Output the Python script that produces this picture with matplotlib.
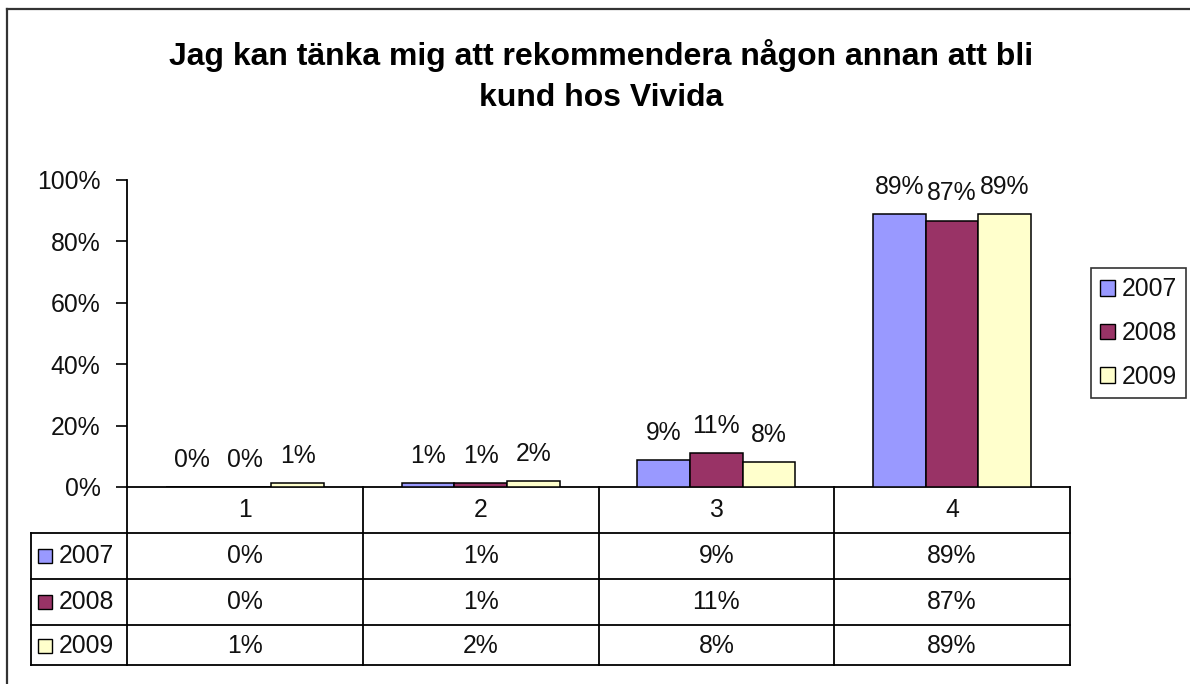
import matplotlib
matplotlib.use('Agg')
import matplotlib.pyplot as plt
import numpy as np
from matplotlib.transforms import blended_transform_factory
from matplotlib.lines import Line2D
from matplotlib.patches import Patch

plt.rcParams['font.family'] = ['Liberation Sans', 'DejaVu Sans']

# ---- data ----
title = "Jag kan tänka mig att rekommendera någon annan att bli\nkund hos Vivida"
categories = ['1', '2', '3', '4']
years = ['2007', '2008', '2009']
v2007 = [0.0, 1.2, 8.9, 88.8]
v2008 = [0.0, 1.2, 11.2, 86.8]
v2009 = [1.3, 2.0, 8.0, 88.8]
series = [v2007, v2008, v2009]
colors = ['#9999FF', '#993366', '#FFFFCC']
yticks = [0, 20, 40, 60, 80, 100]

W, H = 1190, 684
FS = 17.8
fig = plt.figure(figsize=(W / 100, H / 100), dpi=100)


def fx(px):
    return px / W


def fy(py):
    return 1 - py / H


AX_L, AX_R, AX_T, AX_B = 127, 1070, 180, 487
ax = fig.add_axes([fx(AX_L), fy(AX_B), fx(AX_R) - fx(AX_L), fy(AX_T) - fy(AX_B)])
ax.set_xlim(-0.5, 3.5)
ax.set_ylim(0, 100)
catw = (AX_R - AX_L) / 4.0


def xd(px):
    return (px - AX_L) / catw - 0.5


def yf(py):
    return (AX_B - py) / (AX_B - AX_T)


bw = 0.2233
x = np.arange(len(categories))
for i, (yr, vals, c) in enumerate(zip(years, series, colors)):
    xs = x + (i - 1) * bw
    ax.bar(xs, vals, bw, color=c, edgecolor='black', linewidth=1.1, label=yr, zorder=3)
    for xi, v in zip(xs, vals):
        ax.annotate(f'{round(v):d}%', (xi, v), xytext=(0, 19.5), textcoords='offset points',
                    ha='center', va='center', fontsize=FS, color='#111111')

ax.set_yticks(yticks)
ax.set_yticklabels([f'{t}%' for t in yticks])
ax.set_xticks([])
ax.tick_params(axis='y', length=8, width=1.2, pad=11, labelsize=FS, colors='black', labelcolor='#111111')
for s in ['top', 'right']:
    ax.spines[s].set_visible(False)
for s in ['left', 'bottom']:
    ax.spines[s].set_linewidth(1.3)
    ax.spines[s].set_color('black')

# ---- data table ----
tr = blended_transform_factory(ax.transData, ax.transAxes)
row_lines = [533, 579, 625, 665]
lx = xd(31)
lw = 1.3
kw = dict(transform=tr, clip_on=False, color='black', linewidth=lw)
for py in row_lines:
    ax.plot([lx, 3.5], [yf(py), yf(py)], **kw)
for b in np.arange(-0.5, 3.6, 1.0):
    ax.plot([b, b], [0, yf(665)], **kw)
ax.plot([lx, lx], [yf(533), yf(665)], **kw)

for xi, cat in zip(x, categories):
    ax.text(xi, yf(510), cat, transform=tr, ha='center', va='center', fontsize=FS, color='#111111')

row_centers = [556, 602, 646]
for yr, vals, c, py in zip(years, series, colors, row_centers):
    ax.plot([xd(45)], [yf(py)], marker='s', ms=10.5, mfc=c, mec='black', mew=1.0,
            transform=tr, clip_on=False, linestyle='none')
    ax.text(xd(59), yf(py), yr, transform=tr, ha='left', va='center', fontsize=FS, color='#111111')
    for xi, v in zip(x, vals):
        ax.text(xi, yf(py), f'{round(v):d}%', transform=tr, ha='center', va='center',
                fontsize=FS, color='#111111')

# ---- legend ----
handles = [Patch(facecolor=c, edgecolor='black', linewidth=1.0) for c in colors]
leg = fig.legend(handles, years, loc='upper left', bbox_to_anchor=(fx(1091), fy(268)),
                 borderaxespad=0, fontsize=FS, frameon=True, fancybox=False,
                 handlelength=0.6, handleheight=0.6, handletextpad=0.25,
                 borderpad=0.38, labelspacing=0.8)
leg.get_frame().set_edgecolor('black')
leg.get_frame().set_linewidth(1.2)
for t in leg.get_texts():
    t.set_color('#111111')

# ---- title ----
fig.text(fx(601), fy(76), title, ha='center', va='center', fontsize=23, fontweight='bold',
         linespacing=1.45)

# ---- outer border ----
fig.add_artist(Line2D([fx(7), fx(7)], [fy(9), 0], transform=fig.transFigure, color='#333333', lw=1.6))
fig.add_artist(Line2D([fx(7), 1], [fy(9), fy(9)], transform=fig.transFigure, color='#333333', lw=1.6))

fig.savefig('out.png', dpi=100)
